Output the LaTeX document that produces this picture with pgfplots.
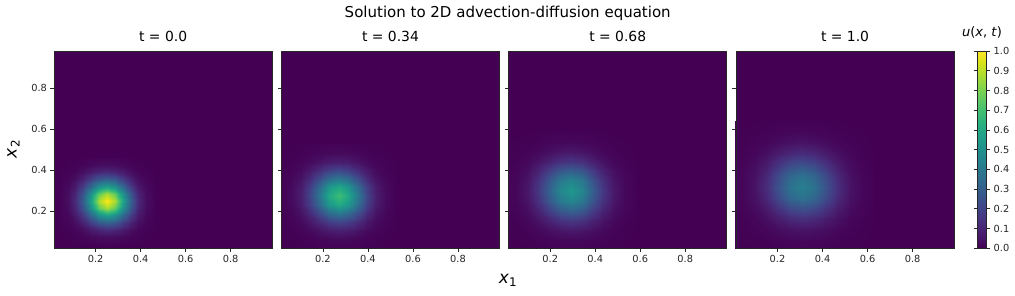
\documentclass[border=0pt]{standalone}
\usepackage{fontspec}
\setmainfont{DejaVu Sans}
\usepackage{pgfplots}
\usepackage{pgfplotstable}
\pgfplotsset{compat=1.18}
\definecolor{vir0}{RGB}{68,1,84}

% u(x1,x2) at t = 0.0
\pgfplotstableread{
x y u
0.04 0.04 0.000
0.075 0.04 0.000
0.11 0.04 0.001
0.145 0.04 0.002
0.18 0.04 0.005
0.215 0.04 0.007
0.25 0.04 0.008
0.285 0.04 0.007
0.32 0.04 0.005
0.355 0.04 0.002
0.39 0.04 0.001
0.425 0.04 0.000
0.46 0.04 0.000
0.04 0.075 0.000
0.075 0.075 0.001
0.11 0.075 0.004
0.145 0.075 0.010
0.18 0.075 0.020
0.215 0.075 0.030
0.25 0.075 0.034
0.285 0.075 0.030
0.32 0.075 0.020
0.355 0.075 0.010
0.39 0.075 0.004
0.425 0.075 0.001
0.46 0.075 0.000
0.04 0.11 0.001
0.075 0.11 0.004
0.11 0.11 0.013
0.145 0.11 0.034
0.18 0.11 0.068
0.215 0.11 0.101
0.25 0.11 0.116
0.285 0.11 0.101
0.32 0.11 0.068
0.355 0.11 0.034
0.39 0.11 0.013
0.425 0.11 0.004
0.46 0.11 0.001
0.04 0.145 0.002
0.075 0.145 0.010
0.11 0.145 0.034
0.145 0.145 0.088
0.18 0.145 0.173
0.215 0.145 0.260
0.25 0.145 0.297
0.285 0.145 0.260
0.32 0.145 0.173
0.355 0.145 0.088
0.39 0.145 0.034
0.425 0.145 0.010
0.46 0.145 0.002
0.04 0.18 0.005
0.075 0.18 0.020
0.11 0.18 0.068
0.145 0.18 0.173
0.18 0.18 0.340
0.215 0.18 0.510
0.25 0.18 0.583
0.285 0.18 0.510
0.32 0.18 0.340
0.355 0.18 0.173
0.39 0.18 0.068
0.425 0.18 0.020
0.46 0.18 0.005
0.04 0.215 0.007
0.075 0.215 0.030
0.11 0.215 0.101
0.145 0.215 0.260
0.18 0.215 0.510
0.215 0.215 0.764
0.25 0.215 0.874
0.285 0.215 0.764
0.32 0.215 0.510
0.355 0.215 0.260
0.39 0.215 0.101
0.425 0.215 0.030
0.46 0.215 0.007
0.04 0.25 0.008
0.075 0.25 0.034
0.11 0.25 0.116
0.145 0.25 0.297
0.18 0.25 0.583
0.215 0.25 0.874
0.25 0.25 1.000
0.285 0.25 0.874
0.32 0.25 0.583
0.355 0.25 0.297
0.39 0.25 0.116
0.425 0.25 0.034
0.46 0.25 0.008
0.04 0.285 0.007
0.075 0.285 0.030
0.11 0.285 0.101
0.145 0.285 0.260
0.18 0.285 0.510
0.215 0.285 0.764
0.25 0.285 0.874
0.285 0.285 0.764
0.32 0.285 0.510
0.355 0.285 0.260
0.39 0.285 0.101
0.425 0.285 0.030
0.46 0.285 0.007
0.04 0.32 0.005
0.075 0.32 0.020
0.11 0.32 0.068
0.145 0.32 0.173
0.18 0.32 0.340
0.215 0.32 0.510
0.25 0.32 0.583
0.285 0.32 0.510
0.32 0.32 0.340
0.355 0.32 0.173
0.39 0.32 0.068
0.425 0.32 0.020
0.46 0.32 0.005
0.04 0.355 0.002
0.075 0.355 0.010
0.11 0.355 0.034
0.145 0.355 0.088
0.18 0.355 0.173
0.215 0.355 0.260
0.25 0.355 0.297
0.285 0.355 0.260
0.32 0.355 0.173
0.355 0.355 0.088
0.39 0.355 0.034
0.425 0.355 0.010
0.46 0.355 0.002
0.04 0.39 0.001
0.075 0.39 0.004
0.11 0.39 0.013
0.145 0.39 0.034
0.18 0.39 0.068
0.215 0.39 0.101
0.25 0.39 0.116
0.285 0.39 0.101
0.32 0.39 0.068
0.355 0.39 0.034
0.39 0.39 0.013
0.425 0.39 0.004
0.46 0.39 0.001
0.04 0.425 0.000
0.075 0.425 0.001
0.11 0.425 0.004
0.145 0.425 0.010
0.18 0.425 0.020
0.215 0.425 0.030
0.25 0.425 0.034
0.285 0.425 0.030
0.32 0.425 0.020
0.355 0.425 0.010
0.39 0.425 0.004
0.425 0.425 0.001
0.46 0.425 0.000
0.04 0.46 0.000
0.075 0.46 0.000
0.11 0.46 0.001
0.145 0.46 0.002
0.18 0.46 0.005
0.215 0.46 0.007
0.25 0.46 0.008
0.285 0.46 0.007
0.32 0.46 0.005
0.355 0.46 0.002
0.39 0.46 0.001
0.425 0.46 0.000
0.46 0.46 0.000
}\tA

% t = 0.34
\pgfplotstableread{
x y u
0.018 0.022 0.000
0.06 0.022 0.000
0.102 0.022 0.001
0.144 0.022 0.002
0.186 0.022 0.003
0.228 0.022 0.005
0.27 0.022 0.005
0.312 0.022 0.005
0.354 0.022 0.003
0.396 0.022 0.002
0.438 0.022 0.001
0.48 0.022 0.000
0.522 0.022 0.000
0.018 0.064 0.000
0.06 0.064 0.001
0.102 0.064 0.003
0.144 0.064 0.007
0.186 0.064 0.014
0.228 0.064 0.021
0.27 0.064 0.024
0.312 0.064 0.021
0.354 0.064 0.014
0.396 0.064 0.007
0.438 0.064 0.003
0.48 0.064 0.001
0.522 0.064 0.000
0.018 0.106 0.001
0.06 0.106 0.003
0.102 0.106 0.009
0.144 0.106 0.024
0.186 0.106 0.047
0.228 0.106 0.070
0.27 0.106 0.080
0.312 0.106 0.070
0.354 0.106 0.047
0.396 0.106 0.024
0.438 0.106 0.009
0.48 0.106 0.003
0.522 0.106 0.001
0.018 0.148 0.002
0.06 0.148 0.007
0.102 0.148 0.024
0.144 0.148 0.061
0.186 0.148 0.119
0.228 0.148 0.179
0.27 0.148 0.205
0.312 0.148 0.179
0.354 0.148 0.119
0.396 0.148 0.061
0.438 0.148 0.024
0.48 0.148 0.007
0.522 0.148 0.002
0.018 0.19 0.003
0.06 0.19 0.014
0.102 0.19 0.047
0.144 0.19 0.119
0.186 0.19 0.234
0.228 0.19 0.351
0.27 0.19 0.402
0.312 0.19 0.351
0.354 0.19 0.234
0.396 0.19 0.119
0.438 0.19 0.047
0.48 0.19 0.014
0.522 0.19 0.003
0.018 0.232 0.005
0.06 0.232 0.021
0.102 0.232 0.070
0.144 0.232 0.179
0.186 0.232 0.351
0.228 0.232 0.526
0.27 0.232 0.602
0.312 0.232 0.526
0.354 0.232 0.351
0.396 0.232 0.179
0.438 0.232 0.070
0.48 0.232 0.021
0.522 0.232 0.005
0.018 0.274 0.005
0.06 0.274 0.024
0.102 0.274 0.080
0.144 0.274 0.205
0.186 0.274 0.402
0.228 0.274 0.602
0.27 0.274 0.689
0.312 0.274 0.602
0.354 0.274 0.402
0.396 0.274 0.205
0.438 0.274 0.080
0.48 0.274 0.024
0.522 0.274 0.005
0.018 0.316 0.005
0.06 0.316 0.021
0.102 0.316 0.070
0.144 0.316 0.179
0.186 0.316 0.351
0.228 0.316 0.526
0.27 0.316 0.602
0.312 0.316 0.526
0.354 0.316 0.351
0.396 0.316 0.179
0.438 0.316 0.070
0.48 0.316 0.021
0.522 0.316 0.005
0.018 0.358 0.003
0.06 0.358 0.014
0.102 0.358 0.047
0.144 0.358 0.119
0.186 0.358 0.234
0.228 0.358 0.351
0.27 0.358 0.402
0.312 0.358 0.351
0.354 0.358 0.234
0.396 0.358 0.119
0.438 0.358 0.047
0.48 0.358 0.014
0.522 0.358 0.003
0.018 0.4 0.002
0.06 0.4 0.007
0.102 0.4 0.024
0.144 0.4 0.061
0.186 0.4 0.119
0.228 0.4 0.179
0.27 0.4 0.205
0.312 0.4 0.179
0.354 0.4 0.119
0.396 0.4 0.061
0.438 0.4 0.024
0.48 0.4 0.007
0.522 0.4 0.002
0.018 0.442 0.001
0.06 0.442 0.003
0.102 0.442 0.009
0.144 0.442 0.024
0.186 0.442 0.047
0.228 0.442 0.070
0.27 0.442 0.080
0.312 0.442 0.070
0.354 0.442 0.047
0.396 0.442 0.024
0.438 0.442 0.009
0.48 0.442 0.003
0.522 0.442 0.001
0.018 0.484 0.000
0.06 0.484 0.001
0.102 0.484 0.003
0.144 0.484 0.007
0.186 0.484 0.014
0.228 0.484 0.021
0.27 0.484 0.024
0.312 0.484 0.021
0.354 0.484 0.014
0.396 0.484 0.007
0.438 0.484 0.003
0.48 0.484 0.001
0.522 0.484 0.000
0.018 0.526 0.000
0.06 0.526 0.000
0.102 0.526 0.001
0.144 0.526 0.002
0.186 0.526 0.003
0.228 0.526 0.005
0.27 0.526 0.005
0.312 0.526 0.005
0.354 0.526 0.003
0.396 0.526 0.002
0.438 0.526 0.001
0.48 0.526 0.000
0.522 0.526 0.000
}\tB

% t = 0.68
\pgfplotstableread{
x y u
0.003 0.010 0.000
0.051 0.010 0.000
0.099 0.010 0.000
0.147 0.010 0.001
0.195 0.010 0.002
0.243 0.010 0.004
0.291 0.010 0.004
0.339 0.010 0.004
0.387 0.010 0.002
0.435 0.010 0.001
0.483 0.010 0.000
0.531 0.010 0.000
0.579 0.010 0.000
0.003 0.058 0.000
0.051 0.058 0.001
0.099 0.058 0.002
0.147 0.058 0.005
0.195 0.058 0.011
0.243 0.058 0.016
0.291 0.058 0.018
0.339 0.058 0.016
0.387 0.058 0.011
0.435 0.058 0.005
0.483 0.058 0.002
0.531 0.058 0.001
0.579 0.058 0.000
0.003 0.106 0.000
0.051 0.106 0.002
0.099 0.106 0.007
0.147 0.106 0.018
0.195 0.106 0.035
0.243 0.106 0.053
0.291 0.106 0.061
0.339 0.106 0.053
0.387 0.106 0.035
0.435 0.106 0.018
0.483 0.106 0.007
0.531 0.106 0.002
0.579 0.106 0.000
0.003 0.154 0.001
0.051 0.154 0.005
0.099 0.154 0.018
0.147 0.154 0.046
0.195 0.154 0.091
0.243 0.154 0.136
0.291 0.154 0.156
0.339 0.154 0.136
0.387 0.154 0.091
0.435 0.154 0.046
0.483 0.154 0.018
0.531 0.154 0.005
0.579 0.154 0.001
0.003 0.202 0.002
0.051 0.202 0.011
0.099 0.202 0.035
0.147 0.202 0.091
0.195 0.202 0.179
0.243 0.202 0.268
0.291 0.202 0.306
0.339 0.202 0.268
0.387 0.202 0.179
0.435 0.202 0.091
0.483 0.202 0.035
0.531 0.202 0.011
0.579 0.202 0.002
0.003 0.25 0.004
0.051 0.25 0.016
0.099 0.25 0.053
0.147 0.25 0.136
0.195 0.25 0.268
0.243 0.25 0.401
0.291 0.25 0.459
0.339 0.25 0.401
0.387 0.25 0.268
0.435 0.25 0.136
0.483 0.25 0.053
0.531 0.25 0.016
0.579 0.25 0.004
0.003 0.298 0.004
0.051 0.298 0.018
0.099 0.298 0.061
0.147 0.298 0.156
0.195 0.298 0.306
0.243 0.298 0.459
0.291 0.298 0.525
0.339 0.298 0.459
0.387 0.298 0.306
0.435 0.298 0.156
0.483 0.298 0.061
0.531 0.298 0.018
0.579 0.298 0.004
0.003 0.346 0.004
0.051 0.346 0.016
0.099 0.346 0.053
0.147 0.346 0.136
0.195 0.346 0.268
0.243 0.346 0.401
0.291 0.346 0.459
0.339 0.346 0.401
0.387 0.346 0.268
0.435 0.346 0.136
0.483 0.346 0.053
0.531 0.346 0.016
0.579 0.346 0.004
0.003 0.394 0.002
0.051 0.394 0.011
0.099 0.394 0.035
0.147 0.394 0.091
0.195 0.394 0.179
0.243 0.394 0.268
0.291 0.394 0.306
0.339 0.394 0.268
0.387 0.394 0.179
0.435 0.394 0.091
0.483 0.394 0.035
0.531 0.394 0.011
0.579 0.394 0.002
0.003 0.442 0.001
0.051 0.442 0.005
0.099 0.442 0.018
0.147 0.442 0.046
0.195 0.442 0.091
0.243 0.442 0.136
0.291 0.442 0.156
0.339 0.442 0.136
0.387 0.442 0.091
0.435 0.442 0.046
0.483 0.442 0.018
0.531 0.442 0.005
0.579 0.442 0.001
0.003 0.49 0.000
0.051 0.49 0.002
0.099 0.49 0.007
0.147 0.49 0.018
0.195 0.49 0.035
0.243 0.49 0.053
0.291 0.49 0.061
0.339 0.49 0.053
0.387 0.49 0.035
0.435 0.49 0.018
0.483 0.49 0.007
0.531 0.49 0.002
0.579 0.49 0.000
0.003 0.538 0.000
0.051 0.538 0.001
0.099 0.538 0.002
0.147 0.538 0.005
0.195 0.538 0.011
0.243 0.538 0.016
0.291 0.538 0.018
0.339 0.538 0.016
0.387 0.538 0.011
0.435 0.538 0.005
0.483 0.538 0.002
0.531 0.538 0.001
0.579 0.538 0.000
0.003 0.586 0.000
0.051 0.586 0.000
0.099 0.586 0.000
0.147 0.586 0.001
0.195 0.586 0.002
0.243 0.586 0.004
0.291 0.586 0.004
0.339 0.586 0.004
0.387 0.586 0.002
0.435 0.586 0.001
0.483 0.586 0.000
0.531 0.586 0.000
0.579 0.586 0.000
}\tC

% t = 1.0
\pgfplotstableread{
x y u
-0.008 0.002 0.000
0.045 0.002 0.000
0.098 0.002 0.000
0.151 0.002 0.001
0.204 0.002 0.002
0.257 0.002 0.003
0.31 0.002 0.003
0.363 0.002 0.003
0.416 0.002 0.002
0.469 0.002 0.001
0.522 0.002 0.000
0.575 0.002 0.000
0.628 0.002 0.000
-0.008 0.055 0.000
0.045 0.055 0.001
0.098 0.055 0.002
0.151 0.055 0.004
0.204 0.055 0.009
0.257 0.055 0.013
0.31 0.055 0.015
0.363 0.055 0.013
0.416 0.055 0.009
0.469 0.055 0.004
0.522 0.055 0.002
0.575 0.055 0.001
0.628 0.055 0.000
-0.008 0.108 0.000
0.045 0.108 0.002
0.098 0.108 0.006
0.151 0.108 0.015
0.204 0.108 0.029
0.257 0.108 0.043
0.31 0.108 0.050
0.363 0.108 0.043
0.416 0.108 0.029
0.469 0.108 0.015
0.522 0.108 0.006
0.575 0.108 0.002
0.628 0.108 0.000
-0.008 0.161 0.001
0.045 0.161 0.004
0.098 0.161 0.015
0.151 0.161 0.038
0.204 0.161 0.074
0.257 0.161 0.111
0.31 0.161 0.128
0.363 0.161 0.111
0.416 0.161 0.074
0.469 0.161 0.038
0.522 0.161 0.015
0.575 0.161 0.004
0.628 0.161 0.001
-0.008 0.214 0.002
0.045 0.214 0.009
0.098 0.214 0.029
0.151 0.214 0.074
0.204 0.214 0.146
0.257 0.214 0.219
0.31 0.214 0.250
0.363 0.214 0.219
0.416 0.214 0.146
0.469 0.214 0.074
0.522 0.214 0.029
0.575 0.214 0.009
0.628 0.214 0.002
-0.008 0.267 0.003
0.045 0.267 0.013
0.098 0.267 0.043
0.151 0.267 0.111
0.204 0.267 0.219
0.257 0.267 0.328
0.31 0.267 0.375
0.363 0.267 0.328
0.416 0.267 0.219
0.469 0.267 0.111
0.522 0.267 0.043
0.575 0.267 0.013
0.628 0.267 0.003
-0.008 0.32 0.003
0.045 0.32 0.015
0.098 0.32 0.050
0.151 0.32 0.128
0.204 0.32 0.250
0.257 0.32 0.375
0.31 0.32 0.429
0.363 0.32 0.375
0.416 0.32 0.250
0.469 0.32 0.128
0.522 0.32 0.050
0.575 0.32 0.015
0.628 0.32 0.003
-0.008 0.373 0.003
0.045 0.373 0.013
0.098 0.373 0.043
0.151 0.373 0.111
0.204 0.373 0.219
0.257 0.373 0.328
0.31 0.373 0.375
0.363 0.373 0.328
0.416 0.373 0.219
0.469 0.373 0.111
0.522 0.373 0.043
0.575 0.373 0.013
0.628 0.373 0.003
-0.008 0.426 0.002
0.045 0.426 0.009
0.098 0.426 0.029
0.151 0.426 0.074
0.204 0.426 0.146
0.257 0.426 0.219
0.31 0.426 0.250
0.363 0.426 0.219
0.416 0.426 0.146
0.469 0.426 0.074
0.522 0.426 0.029
0.575 0.426 0.009
0.628 0.426 0.002
-0.008 0.479 0.001
0.045 0.479 0.004
0.098 0.479 0.015
0.151 0.479 0.038
0.204 0.479 0.074
0.257 0.479 0.111
0.31 0.479 0.128
0.363 0.479 0.111
0.416 0.479 0.074
0.469 0.479 0.038
0.522 0.479 0.015
0.575 0.479 0.004
0.628 0.479 0.001
-0.008 0.532 0.000
0.045 0.532 0.002
0.098 0.532 0.006
0.151 0.532 0.015
0.204 0.532 0.029
0.257 0.532 0.043
0.31 0.532 0.050
0.363 0.532 0.043
0.416 0.532 0.029
0.469 0.532 0.015
0.522 0.532 0.006
0.575 0.532 0.002
0.628 0.532 0.000
-0.008 0.585 0.000
0.045 0.585 0.001
0.098 0.585 0.002
0.151 0.585 0.004
0.204 0.585 0.009
0.257 0.585 0.013
0.31 0.585 0.015
0.363 0.585 0.013
0.416 0.585 0.009
0.469 0.585 0.004
0.522 0.585 0.002
0.575 0.585 0.001
0.628 0.585 0.000
-0.008 0.638 0.000
0.045 0.638 0.000
0.098 0.638 0.000
0.151 0.638 0.001
0.204 0.638 0.002
0.257 0.638 0.003
0.31 0.638 0.003
0.363 0.638 0.003
0.416 0.638 0.002
0.469 0.638 0.001
0.522 0.638 0.000
0.575 0.638 0.000
0.628 0.638 0.000
}\tD

\newcommand{\tickfont}{\fontsize{9.8}{11}\selectfont}
\pgfplotsset{
  panel/.style={
    scale only axis, width=218.3pt, height=197.3pt,
    anchor=south west,
    xmin=0.015, xmax=0.985, ymin=0.02, ymax=0.98,
    xtick={0.2,0.4,0.6,0.8}, ytick={0.2,0.4,0.6,0.8},
    tick align=outside, tick pos=left, major tick length=3.5pt,
    every tick label/.append style={font=\tickfont, text=black!85},
    tick label style={font=\tickfont},
    /pgf/number format/assume math mode=true,
    /pgf/number format/fixed, /pgf/number format/precision=1,
    axis background/.style={fill=vir0},
    axis on top,
    colormap/viridis, point meta min=0, point meta max=1,
    axis line style={black!85, line width=0.8pt},
    every tick/.style={black!85, line width=0.8pt},
    title style={font=\fontsize{13.9}{15}\selectfont},
  },
  heat/.style={surf, shader=interp, mesh/cols=13, point meta=\thisrow{u}},
}

\begin{document}
\begin{tikzpicture}
\useasboundingbox (0,0) rectangle (1015pt,296pt);

\begin{axis}[panel, at={(54pt,47.7pt)}, title={t = 0.0}]
\addplot[heat] table {\tA};
\end{axis}

\begin{axis}[panel, at={(281.3pt,47.7pt)}, title={t = 0.34}, yticklabels={}]
\addplot[heat] table {\tB};
\end{axis}

\begin{axis}[panel, at={(508.6pt,47.7pt)}, title={t = 0.68}, yticklabels={}]
\addplot[heat] table {\tC};
\end{axis}

\begin{axis}[panel, at={(735.9pt,47.7pt)}, title={t = 1.0}, yticklabels={},
  colorbar right,
  colorbar style={
    at={(1.1054,1)}, anchor=north west, width=9.5pt,
    ytick={0,0.1,0.2,0.3,0.4,0.5,0.6,0.7,0.8,0.9,1.0},
    every tick label/.append style={font=\tickfont, text=black!85},
    yticklabel style={font=\tickfont, text=black!85,
      /pgf/number format/fixed, /pgf/number format/fixed zerofill,
      /pgf/number format/precision=1},
    /pgf/number format/assume math mode=true,
    tick align=outside, major tick length=3.5pt,
    axis line style={black!85, line width=0.8pt},
    every tick/.style={black!85, line width=0.8pt},
    title={\textit{u}(\textit{x}, \textit{t})},
    title style={font=\fontsize{13}{14}\selectfont, yshift=3pt},
  }]
\addplot[heat] table {\tD};
\end{axis}

\node[anchor=base, font=\fontsize{15}{16}\selectfont] at (507.7pt,278.4pt)
  {Solution to 2D advection-diffusion equation};
\node[anchor=base, font=\fontsize{17}{18}\selectfont] at (508pt,12pt)
  {\textit{x}\textsubscript{1}};
\node[rotate=90, font=\fontsize{17}{18}\selectfont] at (13.5pt,147pt)
  {\textit{x}\textsubscript{2}};
\end{tikzpicture}
\end{document}
